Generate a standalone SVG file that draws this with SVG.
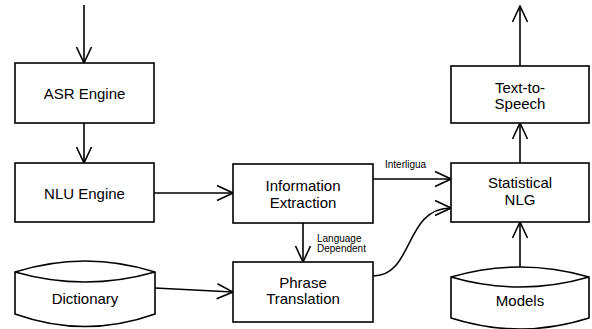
<svg xmlns="http://www.w3.org/2000/svg" width="592" height="329" viewBox="0 0 592 329">
<style>
.box{fill:#fff;stroke:#000;stroke-width:1.6}
.t{font-family:"Liberation Sans",Arial,sans-serif;font-size:15px;fill:#000;text-anchor:middle}
.s{font-family:"Liberation Sans",Arial,sans-serif;font-size:10px;fill:#000}
.c{fill:none;stroke:#000;stroke-width:1.6}
</style>
<defs>
<marker id="a" viewBox="0 0 18 18" refX="17" refY="9" markerWidth="18" markerHeight="18" markerUnits="userSpaceOnUse" orient="auto">
<path d="M1,1.5 L17,9 L1,16.5" fill="none" stroke="#000" stroke-width="1.6"/>
</marker>
</defs>
<g id="connectors">
<path class="c" d="M84,5 L84,63" marker-end="url(#a)"/>
<path class="c" d="M84,123 L84,163" marker-end="url(#a)"/>
<path class="c" d="M154,193 L233,193" marker-end="url(#a)"/>
<path class="c" d="M303,223 L303,262" marker-end="url(#a)"/>
<path class="c" d="M155,288 L233,292" marker-end="url(#a)"/>
<path class="c" d="M373,179 L451,179" marker-end="url(#a)"/>
<path class="c" d="M373,276 C414,276 404,208 451,208" marker-end="url(#a)"/>
<path class="c" d="M520,267 L520,222" marker-end="url(#a)"/>
<path class="c" d="M520,163 L520,123" marker-end="url(#a)"/>
<path class="c" d="M520,66 L520,6" marker-end="url(#a)"/>
<text class="s" x="385" y="167.5">Interligua</text>
<text class="s" x="317" y="242">Language</text>
<text class="s" x="317" y="251.5">Dependent</text>
</g>
<g id="asr">
<rect class="box" x="15" y="63" width="139" height="60"/>
<text class="t" x="84.5" y="98.5">ASR Engine</text>
</g>
<g id="nlu">
<rect class="box" x="15" y="163" width="139" height="59"/>
<text class="t" x="84.5" y="198.5">NLU Engine</text>
</g>
<g id="ie">
<rect class="box" x="233" y="164" width="140" height="59"/>
<text class="t" x="303" y="191">Information</text>
<text class="t" x="303" y="207.5">Extraction</text>
</g>
<g id="pt">
<rect class="box" x="233" y="262" width="140" height="60"/>
<text class="t" x="303" y="288">Phrase</text>
<text class="t" x="303" y="304">Translation</text>
</g>
<g id="dictionary">
<path class="box" d="M15,272 Q85,250 155,272 L155,314 Q85,339 15,314 Z"/>
<path class="c" d="M15,272 Q85,292 155,272"/>
<text class="t" x="85" y="303.5">Dictionary</text>
</g>
<g id="nlg">
<rect class="box" x="451" y="163" width="138" height="59"/>
<text class="t" x="520" y="188">Statistical</text>
<text class="t" x="520" y="204.5">NLG</text>
</g>
<g id="tts">
<rect class="box" x="451" y="66" width="138" height="57"/>
<text class="t" x="520" y="93">Text-to-</text>
<text class="t" x="520" y="109">Speech</text>
</g>
<g id="models">
<path class="box" d="M451,277 Q520,257 589,277 L589,318 Q520,340 451,318 Z"/>
<path class="c" d="M451,277 Q520,297 589,277"/>
<text class="t" x="520" y="305.5">Models</text>
</g>
</svg>
